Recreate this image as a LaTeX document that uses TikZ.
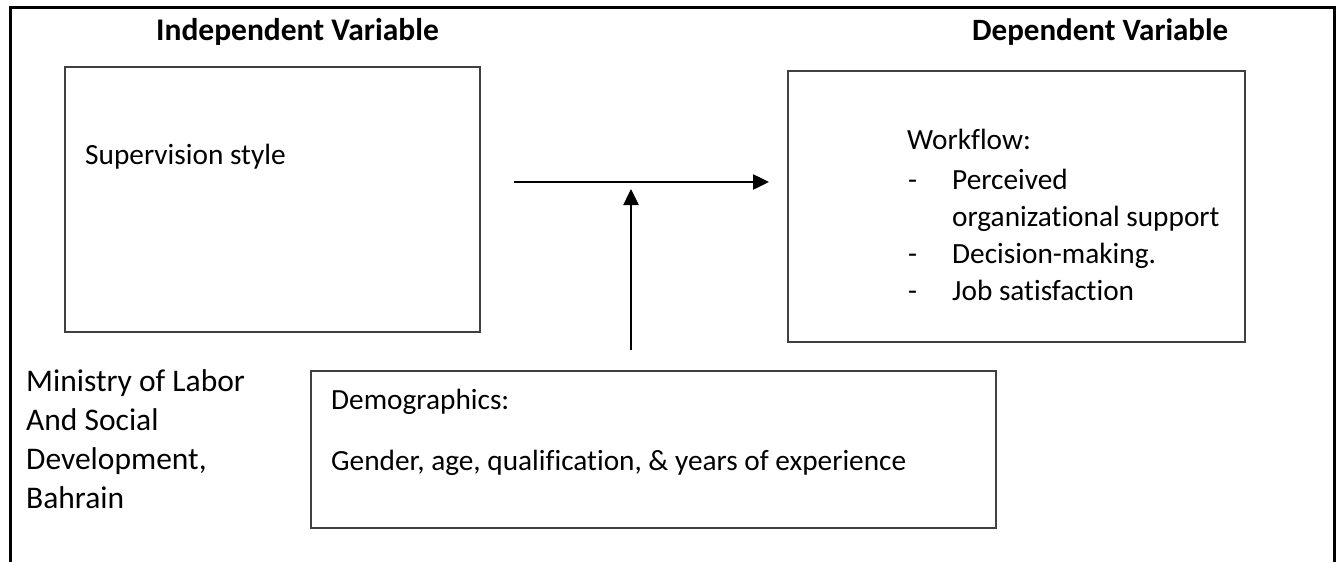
\documentclass[tikz,border=0pt]{standalone}
\usepackage{fontspec}
\setmainfont[RawFeature=-liga]{Carlito}
\usetikzlibrary{arrows.meta}

\begin{document}
\begin{tikzpicture}[x=1pt, y=-1pt, box/.style={draw=black!75, line width=1.5pt},
    txt/.style={anchor=base west, inner sep=0pt, font=\fontsize{29.3}{37.5}\selectfont},
    big/.style={anchor=base west, inner sep=0pt, font=\fontsize{31.5}{39}\selectfont},
    flow/.style={line width=2.5pt, -{Triangle[length=16pt,width=15pt]}}]
    \useasboundingbox (0, 0) rectangle (1338, 562);

    % frame, open at the bottom
    \draw[line width=3pt] (10.5, 562) -- (10.5, 7.5) -- (1334, 7.5) -- (1334, 562);

    \node [big, font=\bfseries\fontsize{31.5}{39}\selectfont] (IV) at (156, 40) {Independent Variable};
    \node [big, font=\bfseries\fontsize{31}{39}\selectfont] (DV) at (972, 40) {Dependent Variable};

    \begin{scope}[]
        \coordinate (S1) at (65, 67);
        \coordinate (S2) at (480, 332);
        \draw[box] (S1) rectangle (S2);
        \node [txt] (sup) at (85, 164) {Supervision style};
    \end{scope}

    \begin{scope}[]
        \coordinate (W1) at (788, 71);
        \coordinate (W2) at (1245, 342);
        \draw[box] (W1) rectangle (W2);
        \node [txt] (wf) at (907, 149) {Workflow:};
        \node [txt] (d1) at (908, 189) {-};
        \node [txt] (w1) at (952, 189) {Perceived};
        \node [txt] (w1b) at (952, 226) {organizational support};
        \node [txt] (d2) at (908, 263) {-};
        \node [txt] (w2) at (952, 263) {Decision-making.};
        \node [txt] (d3) at (908, 300) {-};
        \node [txt] (w3) at (952, 300) {Job satisfaction};
    \end{scope}

    \begin{scope}[]
        \coordinate (D1) at (311, 371);
        \coordinate (D2) at (996, 528);
        \draw[box] (D1) rectangle (D2);
        \node [txt] (dem) at (331, 409) {Demographics:};
        \node [txt] (gen) at (331, 470) {Gender, age, qualification, \& years of experience};
    \end{scope}

    \node [big] (m1) at (26, 391) {Ministry of Labor};
    \node [big] (m2) at (26, 430) {And Social};
    \node [big] (m3) at (26, 469) {Development,};
    \node [big] (m4) at (26, 508) {Bahrain};

    % arrows
    \coordinate (A1) at (514, 182);
    \coordinate (A2) at (769, 182);
    \coordinate (B1) at (631, 350);
    \coordinate (B2) at (631, 189);
    \draw[flow] (A1) -- (A2);
    \draw[flow] (B1) -- (B2);
\end{tikzpicture}
\end{document}
